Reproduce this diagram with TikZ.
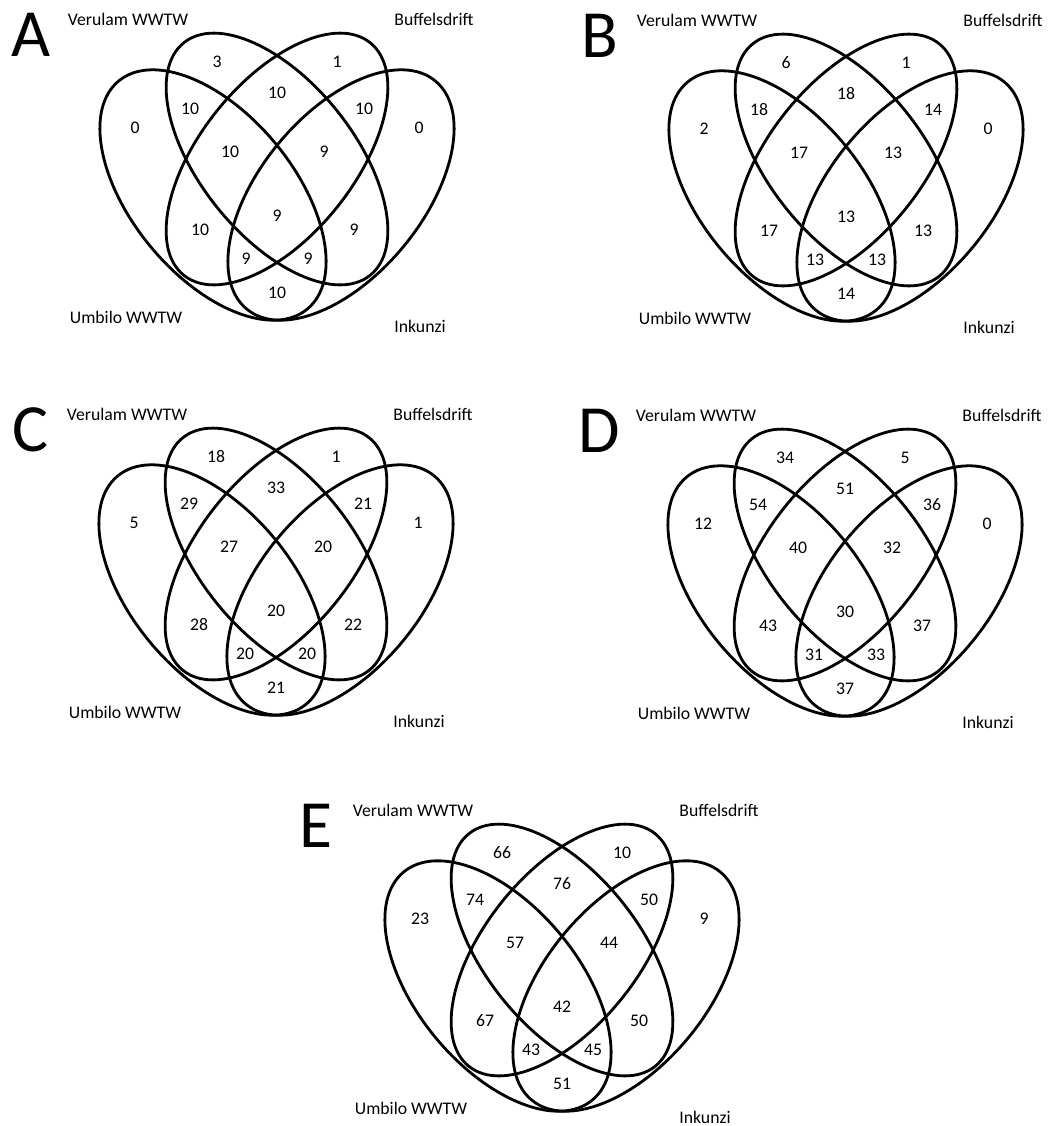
\documentclass[tikz,border=0pt]{standalone}
\usepackage{fontspec}
\setmainfont{Carlito}
\usepackage{tikz}

% region label positions (px from the centre of the two inner ellipses)
\def\regx{{-60,60,0,-87,87,-142,142,-47,47,0,-77,77,-31,31,0}}
\def\regy{{-97,-97,-66,-50,-50,-31,-31,-7,-7,57,71,71,100,100,134}}

\newcommand{\vennpanel}[3]{%
  \begin{scope}[shift={#2}]
    \draw[vline, rotate around={-50.4:(-64,36)}] (-64,36) ellipse (148 and 81);
    \draw[vline, rotate around={-51.3:(0,0)}] (0,0) ellipse (149 and 77);
    \draw[vline, rotate around={51.3:(0,0)}] (0,0) ellipse (149 and 77);
    \draw[vline, rotate around={50.4:(64,36)}] (64,36) ellipse (148 and 81);

    \node[letter] (#1) at (-246,-124) {#1};
    \node[site] (#1-ver) at (-149,-140) {Verulam WWTW};
    \node[site] (#1-buf) at (157,-140) {Buffelsdrift};
    \node[site] (#1-umb) at (-151,158) {Umbilo WWTW};
    \node[site] (#1-ink) at (143,167) {Inkunzi};

    \foreach \n [count=\k from 0] in {#3}
      \node[num] (#1-\k) at ({\regx[\k]},{\regy[\k]}) {\n};
  \end{scope}}

\begin{document}
\begin{tikzpicture}[x=0.025cm, y=-0.025cm,
  vline/.style={line width=2pt},
  num/.style={font=\fontsize{12.6}{14}\selectfont, inner sep=0pt},
  site/.style={font=\fontsize{12.6}{14}\selectfont, inner sep=0pt},
  letter/.style={font=\fontsize{48}{50}\selectfont, inner sep=0pt}]

  \useasboundingbox (0,0) rectangle (1051,1126);

  \vennpanel{A}{(277,159)}{3,1,10,10,10,0,0,10,9,9,10,9,9,9,10}
  \vennpanel{B}{(846,160)}{6,1,18,18,14,2,0,17,13,13,17,13,13,13,14}
  \vennpanel{C}{(276,554)}{18,1,33,29,21,5,1,27,20,20,28,22,20,20,21}
  \vennpanel{D}{(845,555)}{34,5,51,54,36,12,0,40,32,30,43,37,31,33,37}
  \vennpanel{E}{(562,950)}{66,10,76,74,50,23,9,57,44,42,67,50,43,45,51}

\end{tikzpicture}
\end{document}
